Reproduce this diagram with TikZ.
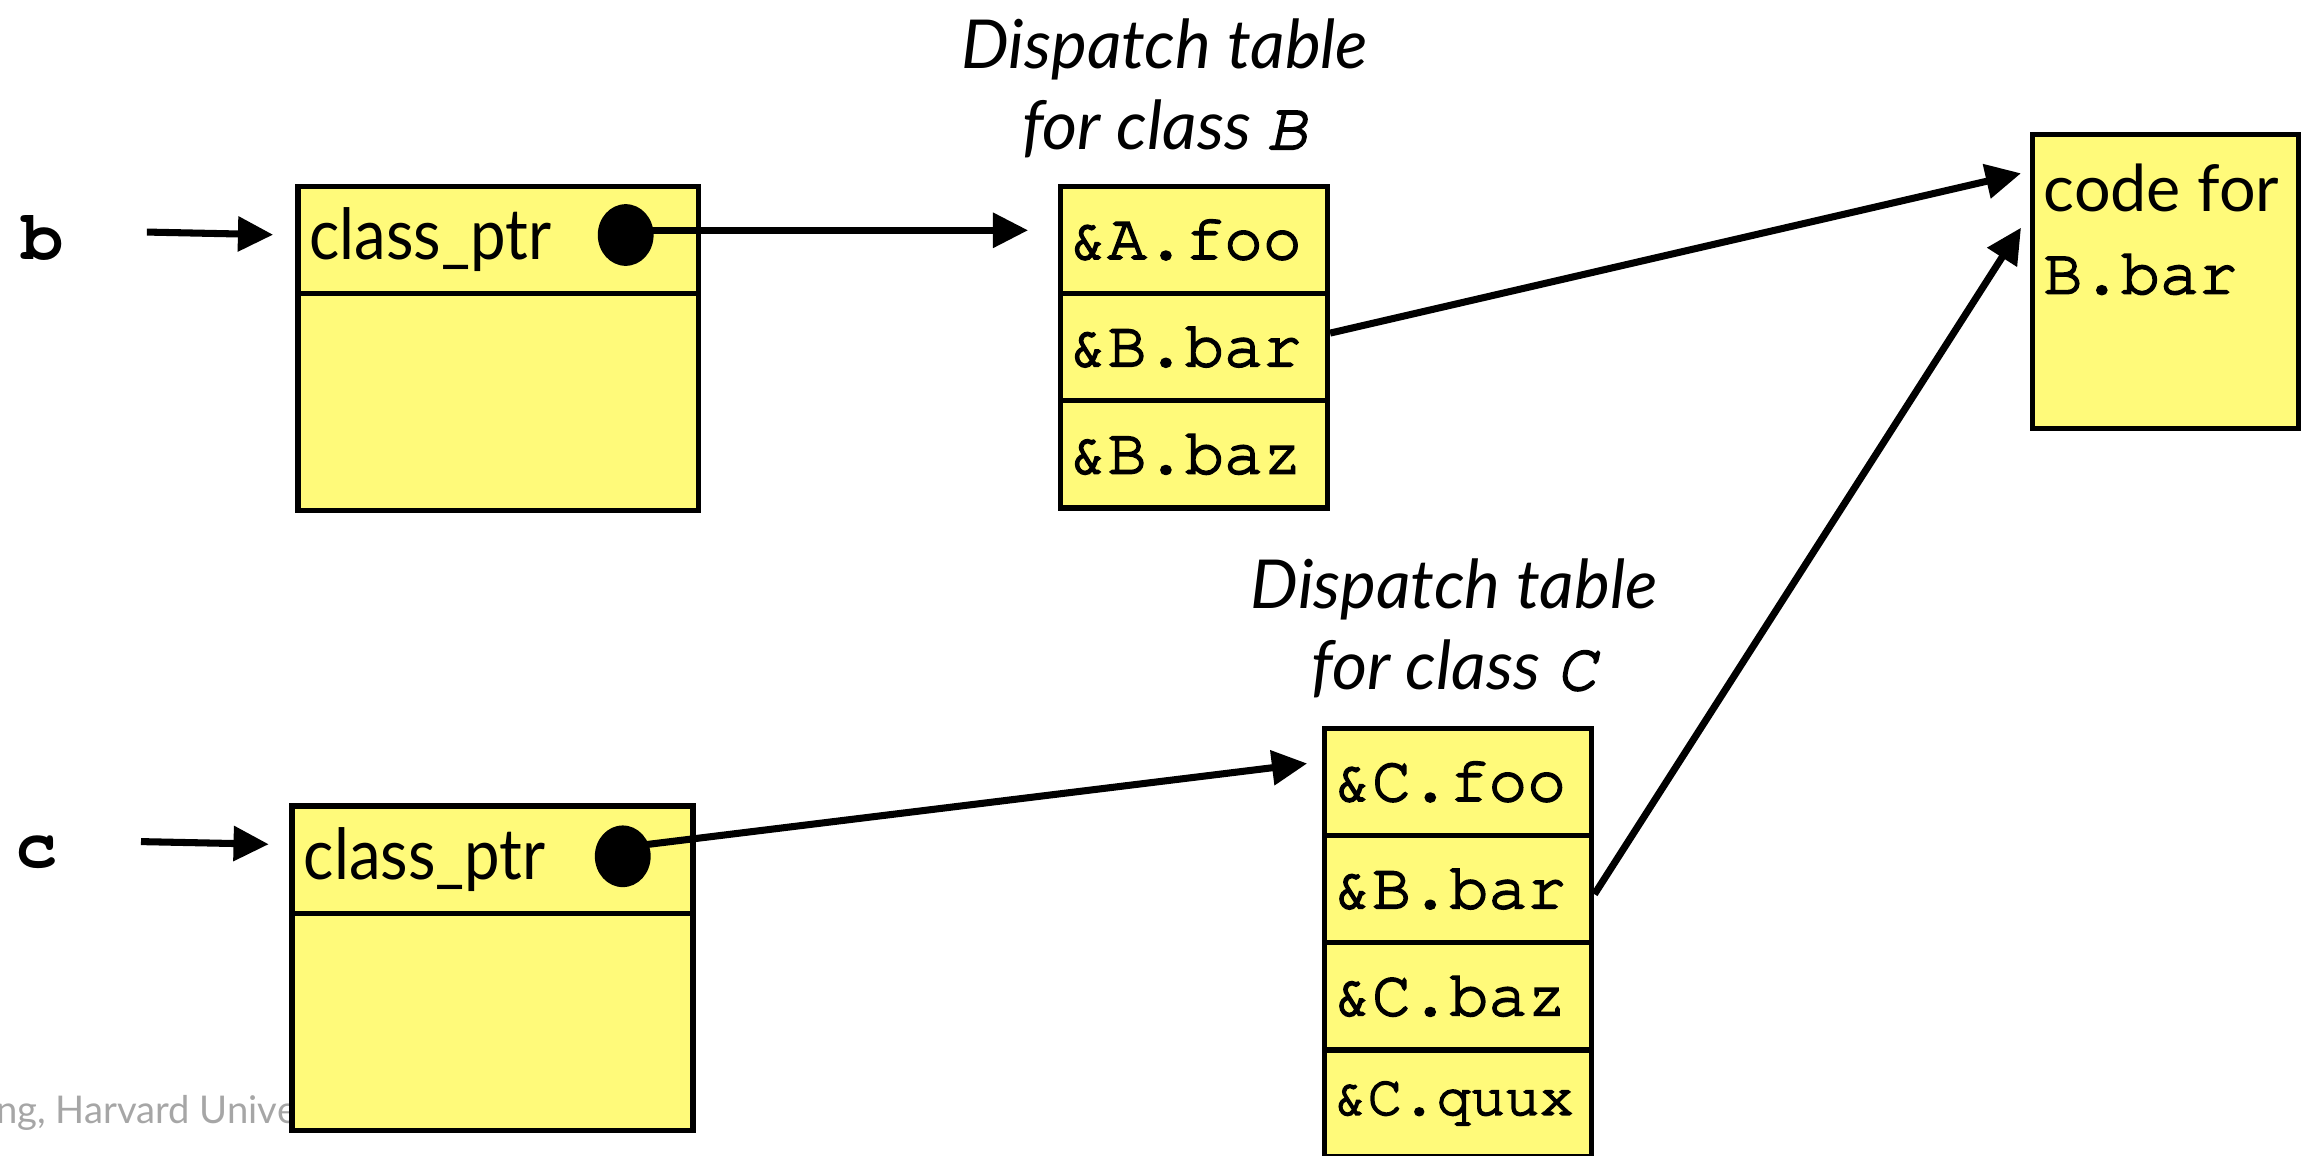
\documentclass[tikz,border=0pt]{standalone}
\usepackage{fontspec}
\setmainfont{Lato}
\newfontfamily\narrowsans{Lato}[FakeStretch=0.9]
\newfontfamily\cour{TeX Gyre Cursor}[FakeBold=3]
\newfontfamily\courb{TeX Gyre Cursor}[UprightFont=*-Bold]
\usetikzlibrary{arrows.meta,shapes.geometric}
\definecolor{boxyellow}{RGB}{255,250,122}
\begin{document}
\begin{tikzpicture}[x=0.5pt,y=-0.5pt,
  cell/.style={draw=black, line width=1.8pt, fill=boxyellow, rectangle, inner sep=0pt, anchor=north west},
  ptrcell/.style={cell, text width=128.5pt, inner xsep=4pt, minimum height=36.5pt, align=left, font=\narrowsans\fontsize{24}{26}\selectfont},
  tcell/.style={cell, text width=85pt, inner xsep=3pt, minimum height=36.5pt, align=left, font=\cour\fontsize{22}{26}\selectfont},
  emptycell/.style={cell, minimum width=136.5pt, minimum height=74pt},
  dot/.style={ellipse, fill=black, minimum width=19pt, minimum height=21pt, inner sep=0pt},
  arr/.style={line width=2.4pt, -{Triangle[length=12pt,width=11.5pt]}},
  title/.style={align=center, font=\itshape\fontsize{23}{27.5}\selectfont},
  varlabel/.style={font=\courb\fontsize{24}{28}\selectfont, inner sep=0pt}
]
\useasboundingbox (0,0) rectangle (1568,787);

% watermark
\node[anchor=base west, text=black!35, font=\fontsize{13}{15}\selectfont, inner sep=0pt] (wm) at (-3,765) {ng, Harvard University,};

% variable labels
\node[varlabel] (lb) at (29,162) {b};
\node[varlabel] (lc) at (25,580) {c};

% object b
\node[ptrcell] (bptr) at (201,125) {class\_ptr};
\node[emptycell] (bbody) at (201,198) {};
\node[dot] (dotb) at (426,160) {};

% object c
\node[ptrcell] (cptr) at (197,547) {class\_ptr};
\node[emptycell] (cbody) at (197,620) {};
\node[dot] (dotc) at (424,583) {};

% dispatch table B
\node[title] (titleB) at (793,60) {Dispatch table\\for class {\cour\itshape B}};
\node[tcell] (tb1) at (720,125) {\&A.foo};
\node[tcell] (tb2) at (720,198) {\&B.bar};
\node[tcell] (tb3) at (720,271) {\&B.baz};

% dispatch table C
\node[title] (titleC) at (990,428) {Dispatch table\\for class {\cour\itshape C}};
\node[tcell] (tc1) at (900,494) {\&C.foo};
\node[tcell] (tc2) at (900,567) {\&B.bar};
\node[tcell] (tc3) at (900,640) {\&C.baz};
\node[tcell, font=\cour\fontsize{19.5}{24}\selectfont] (tc4) at (900,713) {\&C.quux};

% code box
\node[cell, minimum width=90.5pt, minimum height=100pt] (code) at (1382,90) {};
\node[anchor=north west, align=left, inner sep=0pt, font=\fontsize{22}{28}\selectfont] (codetxt) at (1391,111) {code for\\{\cour B.bar}};

% connectors
\coordinate (bstart) at (100,158);
\coordinate (cstart) at (96,573);
\draw[arr] (bstart) -- ([xshift=-7.5pt,yshift=1.75pt]bptr.west);
\draw[arr] (cstart) -- ([xshift=-7pt,yshift=5.25pt]cptr.west);

\coordinate (tbBin) at ([xshift=-10pt,yshift=3.25pt]tb1.west);
\draw[arr] (dotb.center |- tbBin) -- (tbBin);
\draw[arr] ([yshift=3pt]dotc.center) -- ([xshift=-5pt,yshift=6.25pt]tc1.west);

\draw[arr] ([yshift=4.75pt]tb2.east) -- ([xshift=-3pt,yshift=-14pt]code.north west);
\draw[arr] ([yshift=-1.75pt]tc2.east) -- ([xshift=-3pt,yshift=-32.5pt]code.north west);
\end{tikzpicture}
\end{document}
